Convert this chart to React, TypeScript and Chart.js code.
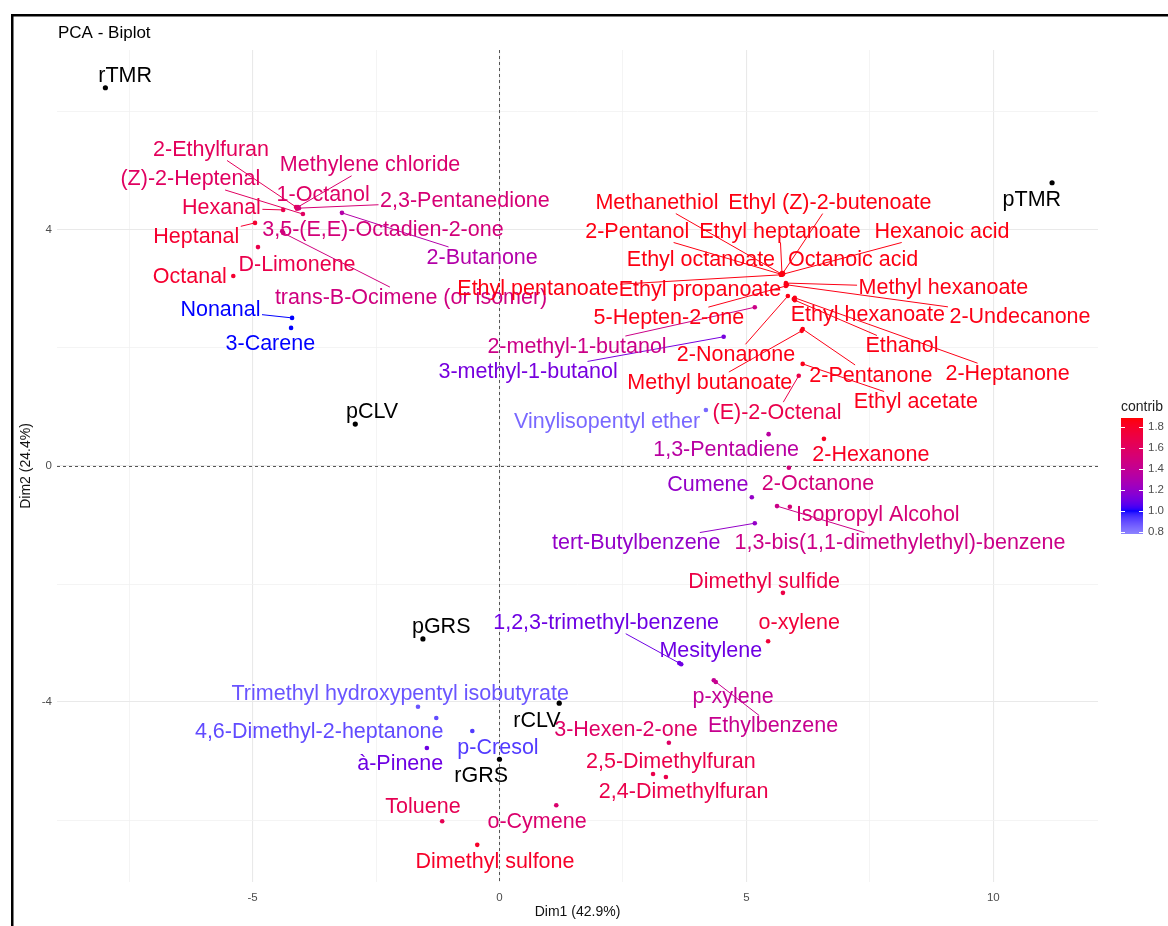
import React, { useEffect, useRef } from 'react';
import { Chart, registerables } from 'chart.js';

Chart.register(...registerables);

const W = 1168;
const H = 926;
const FONT = '"Liberation Sans", Arial, Helvetica, sans-serif';

// ---------- data ----------
const varNames = [
  '2-Ethylfuran', '(Z)-2-Heptenal', 'Methylene chloride', '1-Octanol', 'Hexanal',
  '2,3-Pentanedione', 'Heptanal', '3,5-(E,E)-Octadien-2-one', '2-Butanone', 'D-Limonene',
  'Octanal', 'trans-B-Ocimene (or isomer)', 'Nonanal', '3-Carene', 'Methanethiol',
  'Ethyl (Z)-2-butenoate', '2-Pentanol', 'Ethyl heptanoate', 'Hexanoic acid', 'Ethyl octanoate',
  'Octanoic acid', 'Ethyl pentanoate', 'Ethyl propanoate', 'Methyl hexanoate', '2-Undecanone',
  '5-Hepten-2-one', '2-methyl-1-butanol', '3-methyl-1-butanol', '2-Nonanone', 'Ethyl hexanoate',
  'Ethanol', '2-Heptanone', '2-Pentanone', 'Methyl butanoate', 'Ethyl acetate',
  '(E)-2-Octenal', 'Vinylisopentyl ether', '1,3-Pentadiene', '2-Hexanone', '2-Octanone',
  'Cumene', 'Isopropyl Alcohol', '1,3-bis(1,1-dimethylethyl)-benzene', 'tert-Butylbenzene', 'Dimethyl sulfide',
  'o-xylene', '1,2,3-trimethyl-benzene', 'Mesitylene', 'p-xylene', 'Ethylbenzene',
  '3-Hexen-2-one', '2,5-Dimethylfuran', '2,4-Dimethylfuran', 'Trimethyl hydroxypentyl isobutyrate', '4,6-Dimethyl-2-heptanone',
  'p-Cresol', 'à-Pinene', 'Toluene', 'o-Cymene', 'Dimethyl sulfone',
];
const varX = [
  -4.12, -3.98, -4.08, -4.10, -4.38,
  -4.06, -4.95, -4.40, -3.19, -4.89,
  -5.39, -4.38, -4.20, -4.22, 5.72,
  5.74, 5.70, 5.72, 5.74, 5.70,
  5.72, 5.70, 5.80, 5.80, 5.82,
  5.80, 5.17, 4.54, 5.84, 5.96,
  5.98, 5.98, 6.14, 6.12, 6.14,
  6.06, 4.18, 5.45, 6.57, 5.86,
  5.11, 5.88, 5.62, 5.17, 5.74,
  5.44, 3.64, 3.68, 4.34, 4.38,
  3.43, 3.11, 3.37, -1.65, -1.28,
  -0.55, -1.47, -1.16, 1.15, -0.45,
];
const varY = [
  4.39, 4.27, 4.39, 4.36, 4.34,
  4.37, 4.12, 3.98, 4.29, 3.71,
  3.22, 3.95, 2.51, 2.34, 3.25,
  3.27, 3.25, 3.27, 3.25, 3.24,
  3.24, 3.24, 3.08, 3.10, 3.07,
  3.05, 2.69, 2.19, 2.88, 2.83,
  2.81, 2.85, 2.32, 2.29, 1.73,
  1.53, 0.95, 0.54, 0.46, -0.03,
  -0.53, -0.69, -0.68, -0.97, -2.15,
  -2.97, -3.34, -3.36, -3.63, -3.66,
  -4.69, -5.22, -5.27, -4.08, -4.27,
  -4.49, -4.78, -6.02, -5.75, -6.42,
];
const varContrib = [
  1.62, 1.60, 1.55, 1.58, 1.68,
  1.52, 1.78, 1.50, 1.32, 1.68,
  1.78, 1.48, 1.00, 1.00, 1.86,
  1.86, 1.86, 1.86, 1.86, 1.86,
  1.86, 1.86, 1.85, 1.85, 1.85,
  1.85, 1.45, 1.12, 1.85, 1.85,
  1.85, 1.85, 1.85, 1.85, 1.84,
  1.68, 0.84, 1.35, 1.82, 1.50,
  1.20, 1.52, 1.45, 1.20, 1.70,
  1.75, 1.10, 1.10, 1.40, 1.42,
  1.58, 1.68, 1.68, 0.88, 0.90,
  0.93, 1.10, 1.65, 1.55, 1.80,
];
const varLabelX = [
  -5.84, -6.26, -2.62, -3.57, -5.63,
  -0.70, -6.14, -2.36, -0.35, -4.10,
  -6.27, -1.79, -5.65, -4.64, 3.19,
  6.69, 2.79, 5.68, 8.96, 4.08,
  7.16, 0.78, 4.06, 8.99, 10.54,
  3.43, 1.57, 0.58, 4.79, 7.46,
  8.15, 10.29, 7.52, 4.26, 8.43,
  5.62, 2.18, 4.59, 7.52, 6.45,
  4.22, 7.66, 8.11, 2.77, 5.36,
  6.07, 2.16, 4.28, 4.73, 5.54,
  2.56, 3.47, 3.73, -2.01, -3.65,
  -0.03, -2.01, -1.55, 0.76, -0.09,
];
const varLabelY = [
  5.36, 4.86, 5.10, 4.59, 4.37,
  4.49, 3.88, 4.00, 3.53, 3.41,
  3.20, 2.85, 2.64, 2.07, 4.46,
  4.46, 3.97, 3.97, 3.97, 3.49,
  3.49, 3.00, 2.98, 3.02, 2.53,
  2.51, 2.02, 1.59, 1.88, 2.56,
  2.03, 1.56, 1.53, 1.41, 1.08,
  0.90, 0.75, 0.27, 0.19, -0.31,
  -0.32, -0.83, -1.31, -1.31, -1.97,
  -2.66, -2.66, -3.14, -3.92, -4.41,
  -4.47, -5.02, -5.53, -3.86, -4.51,
  -4.78, -5.05, -5.78, -6.03, -6.71,
];

const indNames = ['rTMR', 'pTMR', 'pCLV', 'pGRS', 'rCLV', 'rGRS'];
const indX = [-7.98, 11.19, -2.92, -1.55, 1.21, 0.0];
const indY = [6.41, 4.80, 0.71, -2.93, -4.02, -4.97];
const indLabelX = [-7.58, 10.78, -2.58, -1.18, 0.76, -0.37];
const indLabelY = [6.61, 4.51, 0.92, -2.73, -4.32, -5.25];

const xRange = [-8.96, 12.12];
const yRange = [-7.05, 7.05];
const xGridValues = [-7.5, -5, -2.5, 0, 2.5, 5, 7.5, 10];
const xTickLabels = [-5, 0, 5, 10];
const yGridValues = [-6, -4, -2, 0, 2, 4, 6];
const yTickLabels = [-4, 0, 4];
const legendTicks = [0.8, 1.0, 1.2, 1.4, 1.6, 1.8];
const contribRange = [0.78, 1.886];

const titleText = 'PCA - Biplot';
const xTitle = 'Dim1 (42.9%)';
const yTitle = 'Dim2 (24.4%)';
const legendTitle = 'contrib';

// ---------- colour scale (Lab interpolation) ----------
type RGB = [number, number, number];
const hexToRgb = (h: string): RGB => [parseInt(h.slice(1, 3), 16), parseInt(h.slice(3, 5), 16), parseInt(h.slice(5, 7), 16)];
const toLin = (c: number) => { c /= 255; return c <= 0.04045 ? c / 12.92 : Math.pow((c + 0.055) / 1.055, 2.4); };
const fromLin = (c: number) => { const v = c <= 0.0031308 ? 12.92 * c : 1.055 * Math.pow(c, 1 / 2.4) - 0.055; return Math.round(Math.max(0, Math.min(1, v)) * 255); };
function rgbToLab([r, g, b]: RGB): RGB {
  const R = toLin(r), G = toLin(g), B = toLin(b);
  const X = (0.4124 * R + 0.3576 * G + 0.1805 * B) / 0.95047;
  const Y = 0.2126 * R + 0.7152 * G + 0.0722 * B;
  const Z = (0.0193 * R + 0.1192 * G + 0.9505 * B) / 1.08883;
  const f = (t: number) => (t > 0.008856 ? Math.cbrt(t) : 7.787 * t + 16 / 116);
  const fx = f(X), fy = f(Y), fz = f(Z);
  return [116 * fy - 16, 500 * (fx - fy), 200 * (fy - fz)];
}
function labToRgb([L, a, b]: RGB): RGB {
  const fy = (L + 16) / 116, fx = fy + a / 500, fz = fy - b / 200;
  const inv = (t: number) => { const t3 = t * t * t; return t3 > 0.008856 ? t3 : (t - 16 / 116) / 7.787; };
  const X = inv(fx) * 0.95047, Y = inv(fy), Z = inv(fz) * 1.08883;
  const R = 3.2406 * X - 1.5372 * Y - 0.4986 * Z;
  const G = -0.9689 * X + 1.8758 * Y + 0.0415 * Z;
  const B = 0.0557 * X - 0.204 * Y + 1.057 * Z;
  return [fromLin(R), fromLin(G), fromLin(B)];
}
const colorStops: [number, string][] = [[0.78, '#8c84ff'], [1.0, '#0000ff'], [1.886, '#ff0000']];
function contribColor(v: number): string {
  const c = Math.max(colorStops[0][0], Math.min(colorStops[colorStops.length - 1][0], v));
  let i = 0;
  while (i < colorStops.length - 2 && c > colorStops[i + 1][0]) i++;
  const [v0, h0] = colorStops[i];
  const [v1, h1] = colorStops[i + 1];
  const t = (c - v0) / (v1 - v0);
  const a = rgbToLab(hexToRgb(h0)), b = rgbToLab(hexToRgb(h1));
  const [r, g, bl] = labToRgb([a[0] + (b[0] - a[0]) * t, a[1] + (b[1] - a[1]) * t, a[2] + (b[2] - a[2]) * t]);
  return `rgb(${r},${g},${bl})`;
}

const LABEL_SIZE = 21.5;

function drawRepelSegment(ctx: CanvasRenderingContext2D, text: string, px: number, py: number, cx: number, cy: number, color: string) {
  ctx.font = `${LABEL_SIZE}px ${FONT}`;
  const w = ctx.measureText(text).width;
  const hw = w / 2 + 1.5;
  const hh = LABEL_SIZE * 0.5;
  const dx = px - cx, dy = py - cy;
  // distance from the point to the nearest side of the label box
  const ndx = Math.max(0, Math.abs(dx) - hw);
  const ndy = Math.max(0, Math.abs(dy) - hh);
  if (Math.hypot(ndx, ndy) <= 8) return;
  const t = Math.min(dx !== 0 ? hw / Math.abs(dx) : Infinity, dy !== 0 ? hh / Math.abs(dy) : Infinity);
  const ex = cx + dx * t, ey = cy + dy * t;
  ctx.strokeStyle = color;
  ctx.lineWidth = 1;
  ctx.beginPath();
  ctx.moveTo(px, py);
  ctx.lineTo(ex, ey);
  ctx.stroke();
}

const biplotPlugin = {
  id: 'biplot',
  beforeDatasetsDraw(chart: any) {
    const { ctx, chartArea: a, scales } = chart;
    const x0 = Math.round(scales.x.getPixelForValue(0)) + 0.5;
    const y0 = Math.round(scales.y.getPixelForValue(0)) + 0.5;
    ctx.save();
    ctx.strokeStyle = '#555555';
    ctx.lineWidth = 1;
    ctx.setLineDash([3, 3]);
    ctx.beginPath();
    ctx.moveTo(x0, a.top);
    ctx.lineTo(x0, a.bottom);
    ctx.moveTo(a.left, y0);
    ctx.lineTo(a.right, y0);
    ctx.stroke();
    ctx.restore();
  },
  afterDatasetsDraw(chart: any) {
    const { ctx, scales } = chart;
    const sx = (v: number) => scales.x.getPixelForValue(v);
    const sy = (v: number) => scales.y.getPixelForValue(v);
    ctx.save();
    varNames.forEach((n, i) => {
      drawRepelSegment(ctx, n, sx(varX[i]), sy(varY[i]), sx(varLabelX[i]), sy(varLabelY[i]), contribColor(varContrib[i]));
    });
    indNames.forEach((n, i) => {
      drawRepelSegment(ctx, n, sx(indX[i]), sy(indY[i]), sx(indLabelX[i]), sy(indLabelY[i]), '#000000');
    });
    ctx.font = `${LABEL_SIZE}px ${FONT}`;
    ctx.textAlign = 'center';
    ctx.textBaseline = 'middle';
    varNames.forEach((n, i) => {
      ctx.fillStyle = contribColor(varContrib[i]);
      ctx.fillText(n, sx(varLabelX[i]), sy(varLabelY[i]));
    });
    ctx.fillStyle = '#000000';
    indNames.forEach((n, i) => {
      ctx.fillText(n, sx(indLabelX[i]), sy(indLabelY[i]));
    });
    ctx.restore();
  },
  afterDraw(chart: any) {
    const { ctx } = chart;
    ctx.save();
    ctx.fillStyle = '#000000';
    ctx.font = `17px ${FONT}`;
    ctx.textAlign = 'left';
    ctx.textBaseline = 'middle';
    ctx.fillText(titleText, 58, 33);
    const bx = 1121, bw = 22, top = 418, bottom = 534;
    const [cmin, cmax] = contribRange;
    for (let p = top; p < bottom; p++) {
      const v = cmax - ((p - top + 0.5) / (bottom - top)) * (cmax - cmin);
      ctx.fillStyle = contribColor(v);
      ctx.fillRect(bx, p, bw, 1);
    }
    ctx.font = `14px ${FONT}`;
    ctx.fillStyle = '#222222';
    ctx.textAlign = 'left';
    ctx.fillText(legendTitle, 1121, 407);
    ctx.font = `11.5px ${FONT}`;
    ctx.fillStyle = '#4d4d4d';
    legendTicks.forEach((v) => {
      const y = bottom - ((v - cmin) / (cmax - cmin)) * (bottom - top);
      ctx.strokeStyle = '#ffffff';
      ctx.lineWidth = 1;
      ctx.beginPath();
      ctx.moveTo(bx, Math.round(y) + 0.5);
      ctx.lineTo(bx + 4, Math.round(y) + 0.5);
      ctx.moveTo(bx + bw - 4, Math.round(y) + 0.5);
      ctx.lineTo(bx + bw, Math.round(y) + 0.5);
      ctx.stroke();
      ctx.fillText(v.toFixed(1), 1148, y);
    });
    ctx.fillStyle = '#000000';
    ctx.fillRect(11, 14, 2.5, H);
    ctx.fillRect(11, 14, W, 2.5);
    ctx.restore();
  },
};

const isMajorX = (v: number) => xTickLabels.includes(v);
const isMajorY = (v: number) => yTickLabels.includes(v);

export default function App() {
  const ref = useRef<HTMLCanvasElement>(null);
  useEffect(() => {
    if (!ref.current) return;
    const chart = new Chart(ref.current, {
      type: 'scatter',
      data: {
        datasets: [
          {
            data: varX.map((x, i) => ({ x, y: varY[i] })),
            pointBackgroundColor: varContrib.map(contribColor),
            pointBorderWidth: 0,
            pointRadius: 2.3,
          },
          {
            data: indX.map((x, i) => ({ x, y: indY[i] })),
            pointBackgroundColor: '#000000',
            pointBorderWidth: 0,
            pointRadius: 2.6,
          },
        ],
      },
      options: {
        animation: false,
        responsive: false,
        maintainAspectRatio: false,
        layout: { padding: { left: 12, top: 50, right: 70, bottom: 4 } },
        plugins: { legend: { display: false }, tooltip: { enabled: false }, title: { display: false } },
        scales: {
          x: {
            type: 'linear',
            min: xRange[0],
            max: xRange[1],
            afterFit: (s: any) => { s.height = 40; },
            afterBuildTicks: (s: any) => { s.ticks = xGridValues.map((v) => ({ value: v })); },
            border: { display: false },
            grid: {
              drawTicks: false,
              color: (c: any) => (c.tick && isMajorX(c.tick.value) ? '#e9e9e9' : '#f1f1f1'),
              lineWidth: (c: any) => (c.tick && isMajorX(c.tick.value) ? 1.1 : 0.8),
            },
            ticks: {
              autoSkip: false,
              maxRotation: 0,
              padding: 9,
              color: '#4d4d4d',
              font: { family: FONT, size: 11.5 },
              callback: (v: any) => (isMajorX(Number(v)) ? String(v) : ''),
            },
            title: { display: true, text: xTitle, color: '#111111', font: { family: FONT, size: 14 }, padding: { top: 0, bottom: 1 } },
          },
          y: {
            type: 'linear',
            min: yRange[0],
            max: yRange[1],
            afterFit: (s: any) => { s.width = 45; },
            afterBuildTicks: (s: any) => { s.ticks = yGridValues.map((v) => ({ value: v })); },
            border: { display: false },
            grid: {
              drawTicks: false,
              color: (c: any) => (c.tick && isMajorY(c.tick.value) ? '#e9e9e9' : '#f1f1f1'),
              lineWidth: (c: any) => (c.tick && isMajorY(c.tick.value) ? 1.1 : 0.8),
            },
            ticks: {
              autoSkip: false,
              padding: 5,
              color: '#4d4d4d',
              font: { family: FONT, size: 11.5 },
              callback: (v: any) => (isMajorY(Number(v)) ? String(v) : ''),
            },
            title: { display: true, text: yTitle, color: '#111111', font: { family: FONT, size: 14 }, padding: { top: 6, bottom: 0 } },
          },
        },
      } as any,
      plugins: [biplotPlugin],
    });
    return () => chart.destroy();
  }, []);
  return (
    <div style={{ position: 'absolute', left: 0, top: 0, width: W, height: H, background: '#ffffff', overflow: 'hidden' }}>
      <canvas ref={ref} width={W} height={H} style={{ display: 'block', width: W, height: H }} />
    </div>
  );
}
